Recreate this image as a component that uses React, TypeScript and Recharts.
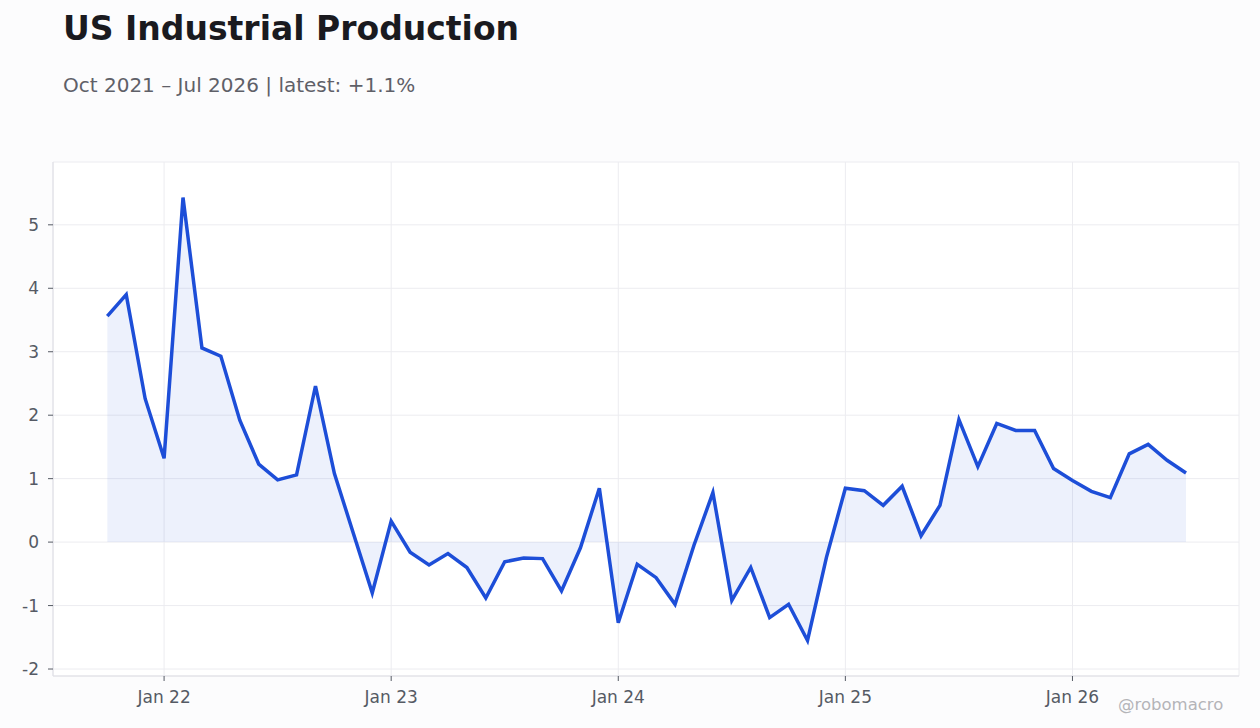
import React from "react";
import {
  ComposedChart,
  Area,
  Line,
  XAxis,
  YAxis,
  CartesianGrid,
} from "recharts";

const months: string[] = [
  "Oct 21", "Nov 21", "Dec 21",
  "Jan 22", "Feb 22", "Mar 22", "Apr 22", "May 22", "Jun 22", "Jul 22", "Aug 22", "Sep 22", "Oct 22", "Nov 22", "Dec 22",
  "Jan 23", "Feb 23", "Mar 23", "Apr 23", "May 23", "Jun 23", "Jul 23", "Aug 23", "Sep 23", "Oct 23", "Nov 23", "Dec 23",
  "Jan 24", "Feb 24", "Mar 24", "Apr 24", "May 24", "Jun 24", "Jul 24", "Aug 24", "Sep 24", "Oct 24", "Nov 24", "Dec 24",
  "Jan 25", "Feb 25", "Mar 25", "Apr 25", "May 25", "Jun 25", "Jul 25", "Aug 25", "Sep 25", "Oct 25", "Nov 25", "Dec 25",
  "Jan 26", "Feb 26", "Mar 26", "Apr 26", "May 26", "Jun 26", "Jul 26",
];

const values: number[] = [
  3.56, 3.9, 2.26,
  1.32, 5.43, 3.06, 2.93, 1.92, 1.23, 0.98, 1.06, 2.46, 1.08, 0.14, -0.8,
  0.33, -0.16, -0.36, -0.18, -0.4, -0.88, -0.31, -0.25, -0.26, -0.77, -0.09, 0.85,
  -1.27, -0.35, -0.56, -0.98, -0.05, 0.78, -0.92, -0.4, -1.19, -0.98, -1.55, -0.24,
  0.85, 0.81, 0.58, 0.88, 0.1, 0.58, 1.93, 1.19, 1.87, 1.76, 1.76, 1.16,
  0.97, 0.8, 0.7, 1.39, 1.54, 1.29, 1.09,
];

const yTicks: number[] = [-2, -1, 0, 1, 2, 3, 4, 5];
const xTickLabels: string[] = ["Jan 22", "Jan 23", "Jan 24", "Jan 25", "Jan 26"];

const data = months.map((m, i) => ({ t: i, label: m, v: values[i] }));
const xTicks = xTickLabels.map((l) => months.indexOf(l));

const FONT = "'DejaVu Sans', sans-serif";
const LINE = "#1d4ed8";

export default function App() {
  return (
    <div
      style={{
        position: "fixed",
        left: 0,
        top: 0,
        width: 1260,
        height: 728,
        background: "#fcfcfd",
        fontFamily: FONT,
        overflow: "hidden",
      }}
    >
      <div
        style={{
          position: "absolute",
          left: 63,
          top: 9,
          fontSize: 33,
          fontWeight: 700,
          color: "#1a1a1f",
          whiteSpace: "nowrap",
        }}
      >
        US Industrial Production
      </div>
      <div
        style={{
          position: "absolute",
          left: 63,
          top: 73,
          fontSize: 20,
          color: "#5f6068",
          whiteSpace: "nowrap",
        }}
      >
        Oct 2021 – Jul 2026 | latest: +1.1%
      </div>
      <div style={{ position: "absolute", left: 0, top: 0 }}>
        <ComposedChart
          width={1260}
          height={728}
          data={data}
          margin={{ top: 162, right: 21, bottom: 22, left: 0 }}
        >
          <CartesianGrid
            xAxisId="main"
            yAxisId="main"
            stroke="#ececf0"
            fill="#ffffff"
            horizontal
            vertical
          />
          <XAxis
            xAxisId="main"
            dataKey="t"
            type="number"
            domain={[-2.87, 59.8]}
            ticks={xTicks}
            tickFormatter={(t: number) => months[t] ?? ""}
            allowDataOverflow
            height={30}
            tickSize={5}
            tickMargin={10}
            axisLine={{ stroke: "#dedee4" }}
            tickLine={{ stroke: "#555a64" }}
            tick={{ fill: "#555a64", fontSize: 17, fontFamily: FONT }}
          />
          <XAxis
            xAxisId="top"
            orientation="top"
            dataKey="t"
            type="number"
            domain={[-2.87, 59.8]}
            ticks={[]}
            height={0}
            axisLine={{ stroke: "#dedee4" }}
            tickLine={false}
            tick={false}
          />
          <YAxis
            yAxisId="main"
            type="number"
            domain={[-2.11, 5.99]}
            ticks={yTicks}
            allowDataOverflow
            width={53}
            tickSize={5}
            tickMargin={9}
            axisLine={{ stroke: "#dedee4" }}
            tickLine={{ stroke: "#555a64" }}
            tick={{ fill: "#555a64", fontSize: 17, fontFamily: FONT }}
          />
          <YAxis
            yAxisId="right"
            orientation="right"
            type="number"
            domain={[-2.11, 5.99]}
            ticks={[]}
            width={0}
            axisLine={{ stroke: "#dedee4" }}
            tickLine={false}
            tick={false}
          />
          <Area
            xAxisId="main"
            yAxisId="main"
            type="linear"
            dataKey="v"
            baseValue={0}
            stroke="rgba(29,78,216,0.08)"
            strokeWidth={1}
            fill={LINE}
            fillOpacity={0.08}
            isAnimationActive={false}
            dot={false}
            activeDot={false}
          />
          <Line
            xAxisId="main"
            yAxisId="main"
            type="linear"
            dataKey="v"
            stroke={LINE}
            strokeWidth={3.5}
            dot={false}
            activeDot={false}
            isAnimationActive={false}
          />
        </ComposedChart>
      </div>
      <div
        style={{
          position: "absolute",
          left: 1118,
          top: 695,
          fontSize: 16.5,
          color: "#b4b4b8",
          whiteSpace: "nowrap",
        }}
      >
        @robomacro
      </div>
    </div>
  );
}
